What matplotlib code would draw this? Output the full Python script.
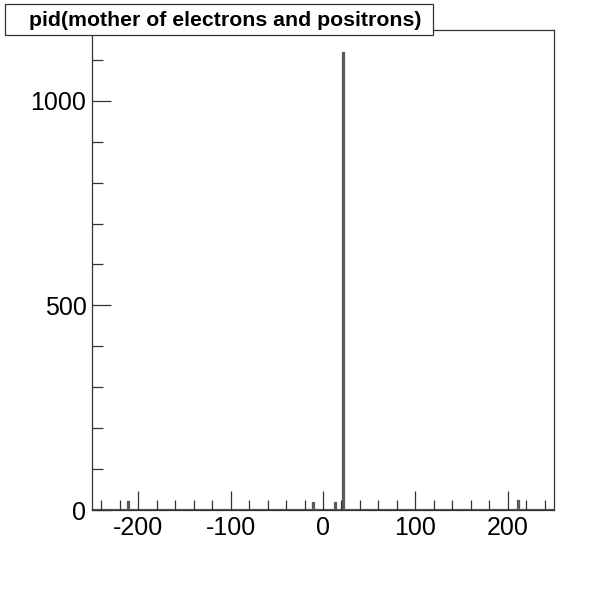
import numpy as np
import matplotlib
matplotlib.use('Agg')
import matplotlib.pyplot as plt
from matplotlib.patches import Rectangle
from matplotlib.ticker import MultipleLocator

# histogram content (pid of mother -> entries)
pids = [-211, -11, 13, 22, 211]
counts = [20, 16, 18, 1117, 22]
title = 'pid(mother of electrons and positrons)'

edges = np.arange(-250, 251, 1)
hist = np.zeros(len(edges) - 1)
for p, c in zip(pids, counts):
    hist[p + 250] = c

plt.rcParams['font.family'] = ['Liberation Sans', 'DejaVu Sans']
plt.rcParams['axes.unicode_minus'] = False

fig = plt.figure(figsize=(6.16, 6.00), dpi=100)
ax = fig.add_axes([92 / 616, 90 / 600, 462 / 616, 480 / 600])

ax.stairs(hist, edges, color='#5a5a5a', linewidth=1.6, baseline=0)

ax.set_xlim(-250, 250)
ax.set_ylim(0, 1.05 * max(counts))

ax.xaxis.set_major_locator(MultipleLocator(100))
ax.xaxis.set_minor_locator(MultipleLocator(20))
ax.yaxis.set_major_locator(MultipleLocator(500))
ax.yaxis.set_minor_locator(MultipleLocator(100))

ax.tick_params(axis='both', which='both', direction='in', color='#333333',
               top=False, right=False, labelsize=18, width=0.9)
ax.tick_params(axis='x', which='major', length=14, pad=4)
ax.tick_params(axis='x', which='minor', length=7)
ax.tick_params(axis='y', which='major', length=14, pad=4)
ax.tick_params(axis='y', which='minor', length=8)

for s in ax.spines.values():
    s.set_color('#333333')
    s.set_linewidth(0.9)

# title box
fig.patches.append(Rectangle((5 / 616, 565 / 600), 428 / 616, 31 / 600,
                             transform=fig.transFigure, facecolor='white',
                             edgecolor='#333333', linewidth=0.9, zorder=5))
fig.text(225 / 616, 580 / 600, title, ha='center', va='center',
         fontsize=15.3, fontweight='bold', zorder=6)

fig.savefig('out.png', dpi=100)
